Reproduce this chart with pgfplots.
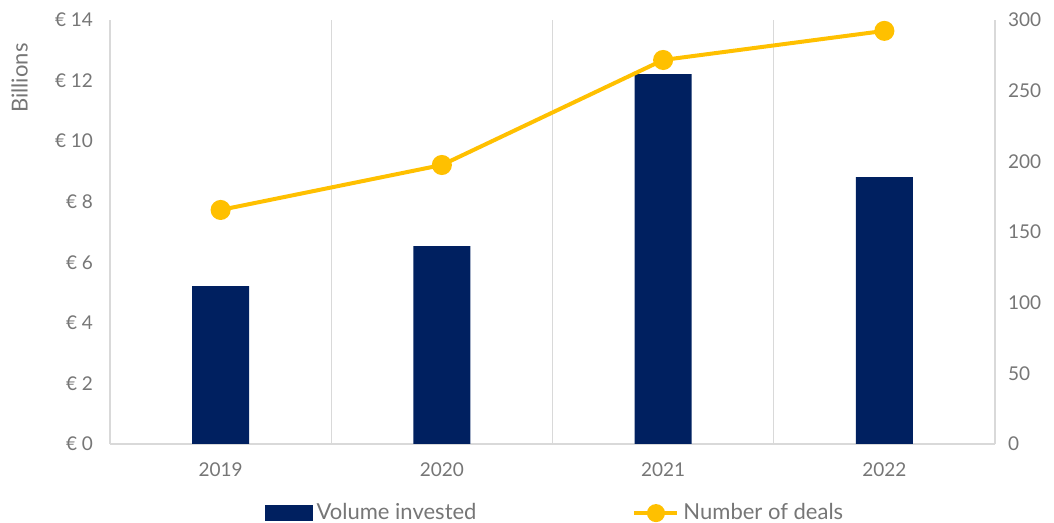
\documentclass[border=0pt]{standalone}
\usepackage{fontspec}
\setmainfont{Lato}
\usepackage{pgfplots}
\pgfplotsset{compat=1.18}

\definecolor{barblue}{RGB}{0,32,96}
\definecolor{dealgold}{RGB}{255,192,0}
\definecolor{txtgray}{RGB}{118,118,118}
\definecolor{gridgray}{RGB}{217,217,217}

\begin{document}
\begin{tikzpicture}
\path[use as bounding box] (0,0) rectangle (527pt,261.5pt);
\begin{axis}[
    at={(55pt,39.5pt)}, anchor=south west,
    scale only axis, width=442.5pt, height=212pt,
    xmin=-0.5, xmax=3.5, ymin=0, ymax=14,
    axis x line*=bottom, axis y line*=left,
    x axis line style={draw=gridgray, line width=0.7pt},
    y axis line style={draw=none},
    tick style={draw=none},
    xtick={0,1,2,3}, xticklabels={2019,2020,2021,2022},
    ytick={0,2,...,14},
    yticklabels={€ 0,€ 2,€ 4,€ 6,€ 8,€ 10,€ 12,€ 14},
    minor xtick={-0.5,0.5,1.5,2.5,3.5}, xminorgrids,
    minor grid style={gridgray, line width=0.7pt},
    ticklabel style={font=\fontsize{9.5}{11}\selectfont, text=txtgray},
    xticklabel style={yshift=-6pt},
    yticklabel style={xshift=-5pt},
    ylabel={Billions},
    ylabel style={at={(axis description cs:-0.102,0.863)}, anchor=center, font=\fontsize{11}{13}\selectfont, text=txtgray},
    clip=false,
]
\addplot[ybar, bar width=28.5pt, fill=barblue, draw=none] coordinates {(0,5.21) (1,6.53) (2,12.21) (3,8.81)};
\end{axis}
\begin{axis}[
    at={(55pt,39.5pt)}, anchor=south west,
    scale only axis, width=442.5pt, height=212pt,
    xmin=-0.5, xmax=3.5, ymin=0, ymax=300,
    axis x line=none, axis y line*=right,
    y axis line style={draw=none},
    tick style={draw=none},
    ytick={0,50,...,300},
    /pgf/number format/assume math mode=true,
    ticklabel style={font=\fontsize{9.5}{11}\selectfont, text=txtgray},
    yticklabel style={xshift=3pt},
    clip=false,
    legend columns=2,
    legend style={at={(0.504,-0.163)}, anchor=center, draw=none, fill=none,
        font=\fontsize{11}{13}\selectfont, text=txtgray,
        /tikz/every even column/.append style={column sep=76pt},
        inner sep=0pt},
]
\addlegendimage{legend image code/.code={\fill[barblue] (0pt,-3.75pt) rectangle (23.5pt,3.75pt);}}
\addlegendentry{Volume invested}
\addplot[dealgold, line width=2pt, mark=*, mark size=4pt, mark options={fill=dealgold, draw=dealgold},
    legend image code/.code={\draw[dealgold, line width=2pt] (0pt,0pt) -- (21.5pt,0pt); \fill[dealgold] (10.75pt,0pt) circle (3.5pt);}]
    coordinates {(0,165.6) (1,197.4) (2,271.7) (3,292.3)};
\addlegendentry{Number of deals}
\end{axis}
\end{tikzpicture}
\end{document}
